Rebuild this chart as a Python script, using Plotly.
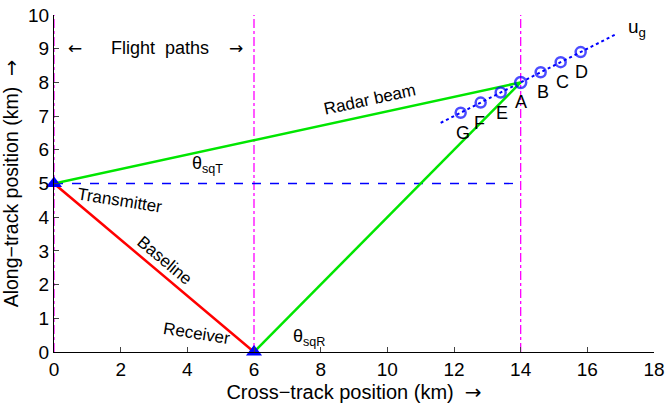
import plotly.graph_objects as go

# ---- data ----
flight_x = [0, 6, 14]
flight_y = [0, 10]
tx_pos = [0, 5]
rx_pos = [6, 0]
target = [14, 8]
pts_x = [14, 14.6, 15.2, 15.8, 13.4, 12.8, 12.2]
pts_y = [8, 8.3, 8.6, 8.9, 7.7, 7.4, 7.1]
pts_lab = ["A", "B", "C", "D", "E", "F", "G"]
ug_x = [11.6, 16.9]
ug_y = [6.8, 9.45]
x_ticks = [0, 2, 4, 6, 8, 10, 12, 14, 16, 18]
y_ticks = [0, 1, 2, 3, 4, 5, 6, 7, 8, 9, 10]

FONT = "Arial, 'Liberation Sans', sans-serif"
ARROWF = "'DejaVu Sans', sans-serif"
MAG = "#ff00ff"
BLUE = "#0000ff"
GREEN = "#00e600"

fig = go.Figure()

for fx in flight_x:
    fig.add_trace(go.Scatter(x=[fx, fx], y=flight_y, mode="lines",
                             line=dict(color=MAG, width=1.3, dash="dashdot"),
                             showlegend=False, hoverinfo="skip"))

fig.add_trace(go.Scatter(x=[tx_pos[0], target[0]], y=[tx_pos[1], tx_pos[1]], mode="lines",
                         line=dict(color=BLUE, width=1.3, dash="dash"), showlegend=False))

fig.add_trace(go.Scatter(x=ug_x, y=ug_y, mode="lines",
                         line=dict(color=BLUE, width=2, dash="dot"), showlegend=False))

fig.add_trace(go.Scatter(x=[tx_pos[0], target[0]], y=[tx_pos[1], target[1]], mode="lines",
                         line=dict(color=GREEN, width=2.5), showlegend=False))
fig.add_trace(go.Scatter(x=[rx_pos[0], target[0]], y=[rx_pos[1], target[1]], mode="lines",
                         line=dict(color=GREEN, width=2.5), showlegend=False))
fig.add_trace(go.Scatter(x=[tx_pos[0], rx_pos[0]], y=[tx_pos[1], rx_pos[1]], mode="lines",
                         line=dict(color="#ff0000", width=2.5), showlegend=False))

fig.add_trace(go.Scatter(x=pts_x, y=pts_y, mode="markers",
                         marker=dict(symbol="circle-open", color=BLUE,
                                     size=[11, 10, 10, 10, 10, 10, 10],
                                     line=dict(width=2.5, color=BLUE)),
                         showlegend=False))

fig.add_trace(go.Scatter(x=[tx_pos[0], rx_pos[0]], y=[tx_pos[1], rx_pos[1]], mode="markers",
                         marker=dict(symbol="triangle-up", color=BLUE, size=14,
                                     line=dict(width=0)),
                         showlegend=False, cliponaxis=False))

ann = []
xs = {"A": 0, "B": 2, "C": 2, "D": 1, "E": 1, "F": -1, "G": 2}
for x, y, t in zip(pts_x, pts_y, pts_lab):
    ann.append(dict(x=x, y=y, text=t, showarrow=False, yshift=-20, xshift=xs[t],
                    font=dict(size=18, color="black", family=FONT)))

def txt(x, y, s, angle=0, size=17, family=FONT):
    ann.append(dict(x=x, y=y, text=s, showarrow=False, textangle=angle,
                    font=dict(size=size, color="black", family=family)))

txt(17.5, 9.62, "u<sub>g</sub>", size=19)
txt(9.47, 7.5, "Radar beam", angle=-12.2)
txt(4.6, 5.55, "θ<sub>sqT</sub>", size=18)
txt(1.97, 4.5, "Transmitter", angle=9)
txt(3.32, 2.72, "Baseline", angle=40)
txt(4.28, 0.55, "Receiver", angle=9)
txt(7.65, 0.42, "θ<sub>sqR</sub>", size=18)
txt(0.62, 9.03, "←", family=ARROWF)
txt(3.19, 9.03, "Flight  paths", size=18)
txt(5.47, 9.03, "→", family=ARROWF)

ARR = "<span style='font-family:DejaVu Sans'>→</span>"

fig.update_layout(
    width=665, height=406,
    margin=dict(l=54, r=11, t=15, b=54),
    paper_bgcolor="white", plot_bgcolor="white",
    font=dict(family=FONT, size=18, color="black"),
    annotations=ann,
    xaxis=dict(range=[0, 18], tickvals=x_ticks, ticks="inside", ticklen=5,
               showgrid=False, zeroline=False, showline=True, linecolor="black",
               linewidth=1, tickfont=dict(size=19, family=FONT), automargin=False,
               title=dict(text="Cross−track position (km)  " + ARR, standoff=6,
                          font=dict(size=20, family=FONT))),
    yaxis=dict(range=[0, 10], tickvals=y_ticks, ticks="inside", ticklen=5,
               showgrid=False, zeroline=False, showline=True, linecolor="black",
               linewidth=1, tickfont=dict(size=19, family=FONT), automargin=False,
               title=dict(text="Along−track position (km)  " + ARR, standoff=4,
                          font=dict(size=19.5, family=FONT))),
)

fig.write_html("out.html")
